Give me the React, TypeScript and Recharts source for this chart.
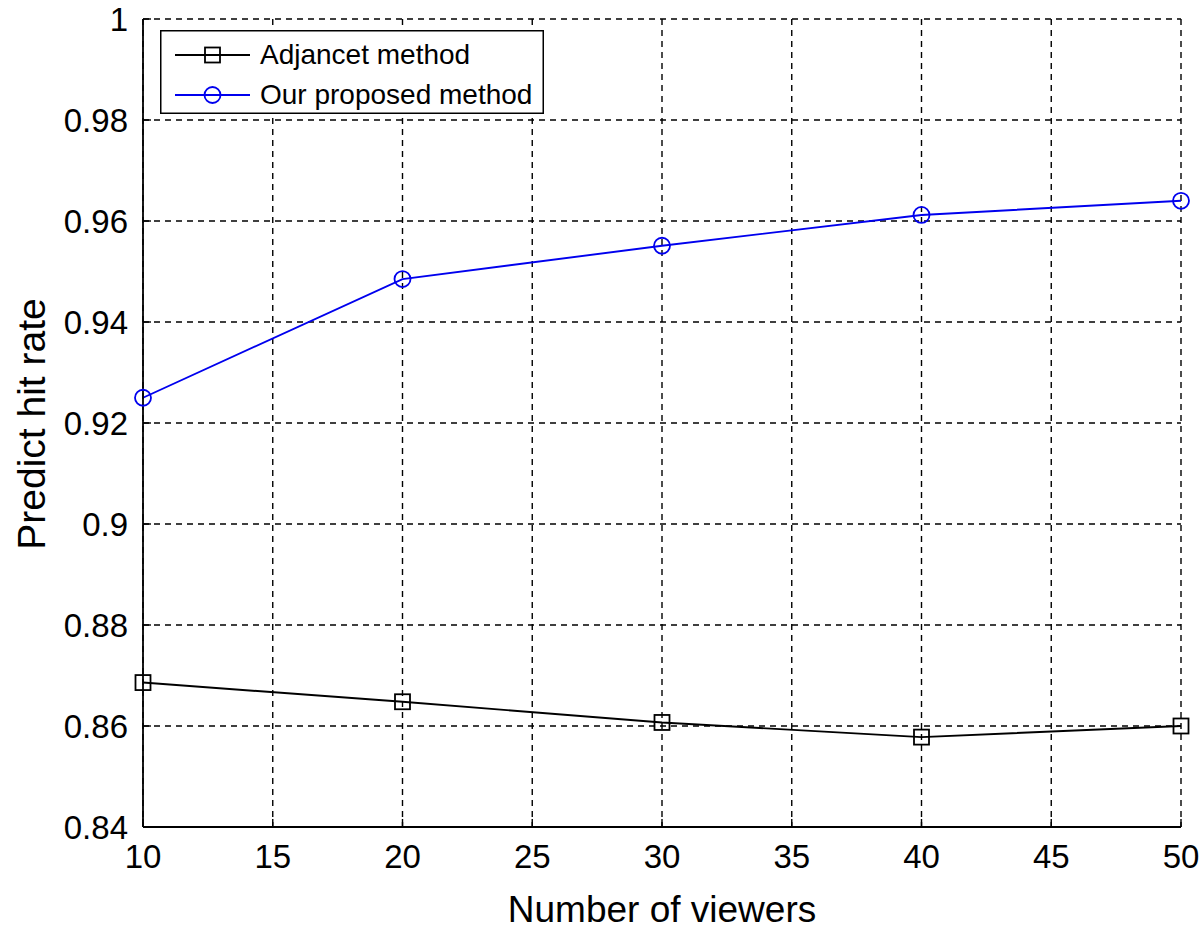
import React from "react";
import {
  LineChart,
  Line,
  XAxis,
  YAxis,
  CartesianGrid,
  Legend,
} from "recharts";

const viewers = [10, 20, 30, 40, 50];
const adjacentRate = [0.8686, 0.8648, 0.8607, 0.8578, 0.86];
const proposedRate = [0.925, 0.9485, 0.9551, 0.9612, 0.964];

const xTicks = [10, 15, 20, 25, 30, 35, 40, 45, 50];
const yTicks = [0.84, 0.86, 0.88, 0.9, 0.92, 0.94, 0.96, 0.98, 1];

const FONT = '"Liberation Sans", Arial, Helvetica, sans-serif';

const data = viewers.map((v, i) => ({
  viewers: v,
  adjacent: adjacentRate[i],
  proposed: proposedRate[i],
}));

function fmtY(v: number): string {
  return String(Number(v.toFixed(2)));
}

// hollow square marker, MATLAB style
function SquareDot(props: any) {
  const { cx, cy, index } = props;
  if (cx == null || cy == null) return null;
  return (
    <rect
      key={`sq-${index}`}
      x={cx - 7.5}
      y={cy - 7.5}
      width={15}
      height={15}
      fill="none"
      stroke="#000"
      strokeWidth={1.8}
    />
  );
}

function LegendBox() {
  return (
    <svg width={384} height={84} style={{ display: "block" }}>
      <rect x={0.75} y={0.75} width={382.5} height={82.5} fill="#fff" stroke="#000" strokeWidth={1.5} />
      <line x1={15} y1={25} x2={90} y2={25} stroke="#000" strokeWidth={1.8} />
      <rect x={45} y={17.5} width={15} height={15} fill="none" stroke="#000" strokeWidth={1.8} />
      <text x={100} y={34} fontSize={28} fontFamily={FONT} fill="#000">
        Adjancet method
      </text>
      <line x1={15} y1={65} x2={90} y2={65} stroke="#0000ee" strokeWidth={1.8} />
      <circle cx={52.5} cy={65} r={8} fill="none" stroke="#0000ee" strokeWidth={1.8} />
      <text x={100} y={74} fontSize={28} fontFamily={FONT} fill="#000">
        Our proposed method
      </text>
    </svg>
  );
}

const tickStyle = { fill: "#000", fontSize: 33, fontFamily: FONT };

export default function App() {
  return (
    <div style={{ position: "absolute", left: 0, top: 0, width: 1200, height: 933, background: "#fff" }}>
      <LineChart
        width={1200}
        height={933}
        data={data}
        margin={{ top: 19, right: 19, bottom: 0, left: 0 }}
      >
        <CartesianGrid stroke="#000" strokeDasharray="6 5" strokeWidth={1.4} />
        <XAxis
          dataKey="viewers"
          type="number"
          domain={[10, 50]}
          ticks={xTicks}
          height={106}
          axisLine={{ stroke: "#000", strokeWidth: 1.8 }}
          tickLine={{ stroke: "#000", strokeWidth: 1.4 }}
          tickSize={-8}
          tickMargin={26}
          tick={tickStyle}
          label={{
            content: () => (
              <text x={662} y={922} textAnchor="middle" fontSize={37} fontFamily={FONT} fill="#000">
                Number of viewers
              </text>
            ),
          }}
        />
        <XAxis
          xAxisId="top"
          orientation="top"
          dataKey="viewers"
          type="number"
          domain={[10, 50]}
          ticks={xTicks}
          height={0}
          axisLine={{ stroke: "#000", strokeWidth: 1.8 }}
          tickLine={{ stroke: "#000", strokeWidth: 1.4 }}
          tickSize={-8}
          tickFormatter={() => ""}
        />
        <YAxis
          type="number"
          domain={[0.84, 1]}
          ticks={yTicks}
          width={143}
          axisLine={{ stroke: "#000", strokeWidth: 1.8 }}
          tickLine={{ stroke: "#000", strokeWidth: 1.4 }}
          tickSize={-8}
          tickMargin={23}
          tick={tickStyle}
          tickFormatter={fmtY}
          label={{
            content: () => (
              <text
                x={0}
                y={0}
                transform="translate(45, 424) rotate(-90)"
                textAnchor="middle"
                fontSize={39}
                fontFamily={FONT}
                fill="#000"
              >
                Predict hit rate
              </text>
            ),
          }}
        />
        <YAxis
          yAxisId="right"
          orientation="right"
          type="number"
          domain={[0.84, 1]}
          ticks={yTicks}
          width={0}
          axisLine={{ stroke: "#000", strokeWidth: 1.8 }}
          tickLine={{ stroke: "#000", strokeWidth: 1.4 }}
          tickSize={-8}
          tickFormatter={() => ""}
        />
        <Line
          dataKey="adjacent"
          name="Adjancet method"
          stroke="#000"
          strokeWidth={1.9}
          dot={<SquareDot />}
          activeDot={false}
          isAnimationActive={false}
        />
        <Line
          dataKey="proposed"
          name="Our proposed method"
          stroke="#0000ee"
          strokeWidth={1.9}
          dot={{ r: 8, fill: "none", stroke: "#0000ee", strokeWidth: 1.8 }}
          activeDot={false}
          isAnimationActive={false}
        />
        <Legend
          layout="vertical"
          align="center"
          verticalAlign="middle"
          content={() => <LegendBox />}
          wrapperStyle={{ left: 160, top: 30, width: 384, height: 84 }}
        />
      </LineChart>
    </div>
  );
}
